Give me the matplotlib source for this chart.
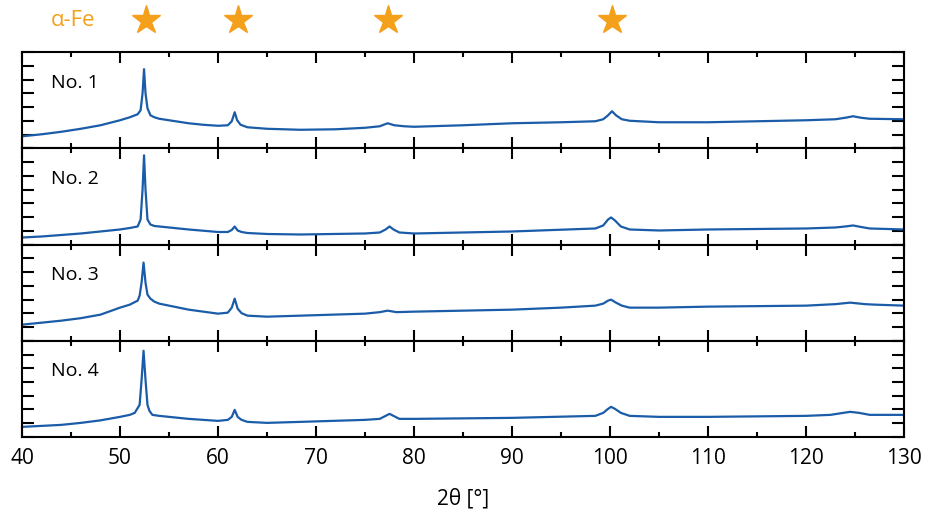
import numpy as np
import matplotlib
matplotlib.use("Agg")
import matplotlib.pyplot as plt
import matplotlib.transforms as mtransforms

plt.rcParams["font.family"] = ["Open Sans", "DejaVu Sans"]

# ── Data (intensity, arbitrary units) ──────────────────────────────────────────
labels = ["No. 1", "No. 2", "No. 3", "No. 4"]

x1 = [40, 42, 44, 46, 48, 50, 51, 51.8, 52.1, 52.3, 52.45, 52.6, 52.8, 53.1,
      53.5, 54, 55, 56, 57, 58.5, 60, 61, 61.4, 61.7, 61.95, 62.3, 63, 65,
      68.4, 72, 75, 76.5, 77.3, 78, 79, 80, 85, 90, 95, 98.5, 99.3, 99.8,
      100.2, 100.6, 101.2, 102, 105, 110, 115, 120, 123, 124, 124.8, 125.6,
      126.5, 130]
y1 = [12, 14, 16.5, 19.5, 23, 28, 31, 34, 38, 55, 79, 55, 40, 33,
      31, 29.5, 28, 26.5, 25, 23.5, 22.5, 23, 27, 36, 28, 23.5, 21, 19.5,
      18.5, 19, 20.5, 22, 25, 23, 22, 21.5, 23, 25, 26, 27, 29, 33,
      37, 33, 29, 27.5, 26, 26, 27, 28, 29, 30.5, 32, 30.5, 29.5, 29]

x2 = [40, 42, 44, 46, 48, 50, 51, 51.8, 52.1, 52.3, 52.45, 52.6, 52.8, 53.1,
      53.5, 55, 57, 60, 61, 61.4, 61.7, 62.0, 62.4, 63, 65, 68.4, 75, 76.5,
      77.1, 77.5, 77.9, 78.5, 80, 90, 98.5, 99.3, 99.8, 100.1, 100.5, 101.1,
      102, 105, 110, 120, 123, 124, 124.8, 125.6, 126.5, 130]
y2 = [7, 8, 9.5, 11, 13, 15, 16.5, 18, 25, 55, 89, 55, 25, 20,
      18.5, 17, 15, 12.5, 12.5, 14.5, 18, 14, 12.5, 11.5, 10.5, 10, 11, 12,
      15, 18, 15, 12, 11, 13, 16, 19, 25, 27, 24, 18,
      15, 14, 15, 16, 17, 18, 19, 17.5, 16, 15]

x3 = [40, 42, 44, 46, 48, 50, 51, 51.8, 52.0, 52.2, 52.4, 52.6, 52.8, 53.1,
      53.5, 54, 55, 56, 57, 58.5, 60, 61, 61.4, 61.7, 62.0, 62.4, 63, 65,
      68.4, 75, 76.5, 77.3, 78.2, 80, 90, 95, 98.5, 99.3, 99.8, 100.1, 100.6,
      101.2, 102, 105, 110, 120, 123, 124.5, 126, 127, 130]
y3 = [16, 18, 20, 22.5, 26, 33, 36, 40, 45, 58, 78, 58, 46, 42,
      39, 37, 35, 33, 31, 29, 27, 28, 33, 42, 32, 27.5, 25, 24,
      25, 27, 28.5, 30, 28.5, 29, 31, 33, 35, 37, 40, 41, 38,
      35, 33, 33, 34, 35, 36.5, 38, 36.5, 36, 35]

x4 = [40, 42, 44, 46, 48, 50, 51, 51.5, 52.0, 52.2, 52.4, 52.6, 52.8, 53.0,
      53.3, 54, 55, 57, 60, 61, 61.4, 61.7, 62.0, 62.4, 63, 65, 68.4, 75, 76.5,
      77.1, 77.5, 77.9, 78.5, 80, 90, 98.5, 99.3, 99.8, 100.1, 100.5, 101.1,
      102, 105, 110, 120, 122.5, 123.8, 124.5, 125.4, 126.5, 130]
y4 = [10, 11, 12, 14, 16.5, 20, 22, 24, 32, 57, 86, 57, 32, 26,
      22, 21, 20, 18, 16, 17, 20, 27, 20, 17, 15, 14, 15, 17, 18,
      21, 23, 21, 18, 18, 19, 21, 24, 28, 30, 28, 24,
      21, 20, 20, 21, 22, 24, 25, 24, 22, 22]

fe_peaks = [52.7, 62.0, 77.3, 100.2]

series = [(x1, y1), (x2, y2), (x3, y3), (x4, y4)]

# ── Plotting ───────────────────────────────────────────────────────────────────
line_color = "#1a5ca8"
star_color = "#f5a01a"

fig, axes = plt.subplots(4, 1, figsize=(9.33, 5.11), dpi=100, sharex=True)
fig.subplots_adjust(left=0.0236, right=0.969, top=0.898, bottom=0.145, hspace=0)

for ax, (xs, ys), lab in zip(axes, series, labels):
    ax.plot(xs, ys, color=line_color, linewidth=1.6)
    ax.set_xlim(40, 130)
    ax.set_ylim(0, 96)
    ax.set_xticks(np.arange(40, 131, 10))
    ax.set_xticks(np.arange(45, 130, 10), minor=True)
    ax.set_yticks(np.arange(0, 97, 13.7))
    ax.set_yticklabels([])
    ax.tick_params(axis="both", which="both", direction="in",
                   top=True, right=True, width=1.5, labelsize=15, pad=8)
    ax.tick_params(axis="x", which="major", length=8)
    ax.tick_params(axis="x", which="minor", length=3.6)
    ax.tick_params(axis="y", length=8.5)
    for s in ax.spines.values():
        s.set_linewidth(1.5)
    ax.text(0.033, 0.68, lab, transform=ax.transAxes, fontsize=14,
            ha="left", va="center", color="black")

axes[-1].set_xlabel("2θ [°]", fontsize=15, labelpad=14)

# α-Fe markers above the top panel
top = axes[0]
trans = mtransforms.blended_transform_factory(top.transData, top.transAxes)
top.plot(fe_peaks, [1.33] * len(fe_peaks), linestyle="none", marker="*",
         markersize=21, color=star_color, transform=trans, clip_on=False)
top.text(0.033, 1.33, "α-Fe", transform=top.transAxes, fontsize=16,
         color=star_color, ha="left", va="center")

plt.savefig("out.png", dpi=100)
plt.close()
